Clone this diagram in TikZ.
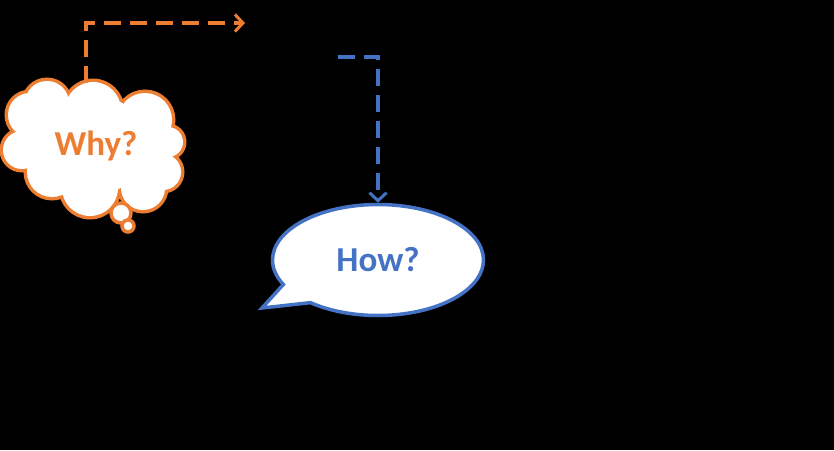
\documentclass[tikz,border=0pt]{standalone}
\usepackage{fontspec}
\setmainfont{Carlito}
\usetikzlibrary{arrows.meta,shapes.callouts,shapes.geometric}
\definecolor{offorange}{HTML}{ED7D31}
\definecolor{offblue}{HTML}{4472C4}
\tikzset{
  orangeline/.style={draw=offorange, line width=3.5pt, dash pattern=on 17pt off 9pt},
  blueline/.style={draw=offblue, line width=3.5pt, dash pattern=on 17pt off 9pt},
  bigtext/.style={font=\fontsize{35}{42}\selectfont\bfseries},
  barb/.style={-{Straight Barb[length=8pt,width=17pt,line width=3pt]}},
}
\begin{document}
\begin{tikzpicture}[x=1pt,y=-1pt]
\fill[black] (0,0) rectangle (834,450);
\useasboundingbox (0,0) rectangle (834,450);
% cloud: union of circles
\def\cloudcircles{
  (30,115) circle (22)
  (47,103) circle (22)
  (93,110) circle (28)
  (145,120) circle (27)
  (168,142) circle (15)
  (163,172) circle (18)
  (143,188) circle (22)
  (90,188) circle (28)
  (52,172) circle (25)
  (22,150) circle (19)
  (95,145) circle (50)
  (60,140) circle (35)
  (130,150) circle (35)
}
\draw[offorange, line width=7pt] \cloudcircles;
\fill[white] \cloudcircles;
\draw[offorange, line width=3.5pt, fill=white] (121,213) circle (10);
\draw[offorange, line width=3.5pt, fill=white] (128,226) circle (6);
\node[bigtext, text=offorange, minimum height=126pt, inner sep=0pt] (why) at (91,146) {\hspace*{10pt}Why?};
% callout
\node[ellipse callout, draw=offblue, fill=white, line width=3.5pt,
      minimum width=211pt, minimum height=111pt, inner sep=0pt,
      callout absolute pointer={(262,308)}, callout pointer arc=24,
      bigtext, text=offblue] (how) at (378,260) {How?};
% connectors
\coordinate (oend) at (245,23);
\coordinate (bstart) at (338,57);
\draw[orangeline, barb] ([xshift=-5pt]why.north) |- (oend);
\draw[blueline, barb] (bstart) -| (how.north);
\end{tikzpicture}
\end{document}
